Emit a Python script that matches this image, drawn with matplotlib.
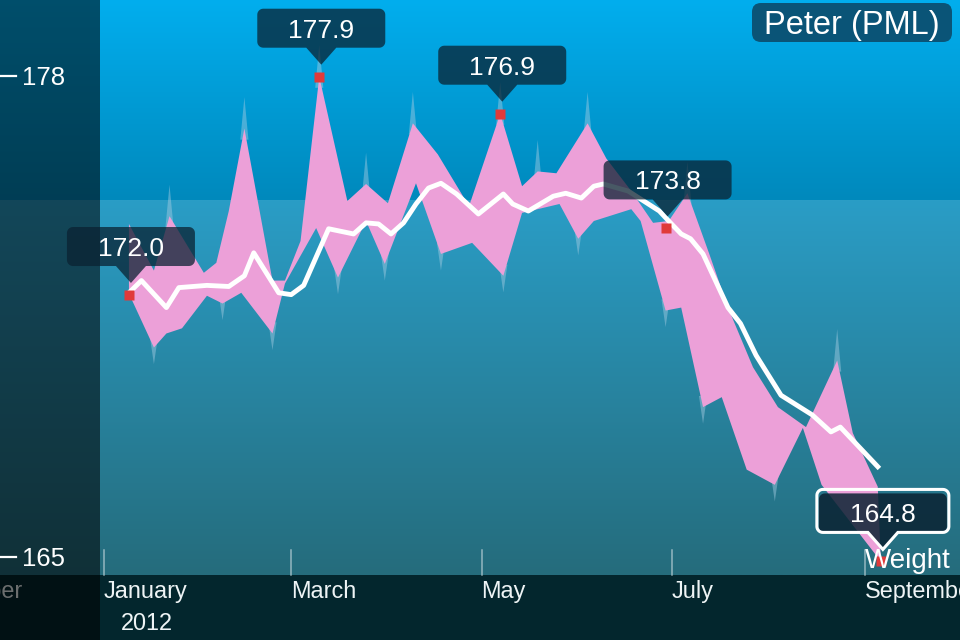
import numpy as np
import matplotlib
matplotlib.use('Agg')
import matplotlib.pyplot as plt
from matplotlib.patches import Polygon, FancyBboxPatch, Rectangle
from matplotlib.colors import LinearSegmentedColormap

plt.rcParams['font.family'] = ['Liberation Sans', 'DejaVu Sans']

# days counted from 1 Jan 2012
trend_day = [8, 12, 20, 24, 33, 40, 45, 48, 56, 60, 64, 72, 80, 84, 88, 92, 96, 100, 104, 108,
             113, 120, 128, 131, 136, 144, 148, 153, 157, 160, 168, 173, 178, 181, 185, 188, 192, 200, 204, 209,
             217, 227, 233, 236, 248]
trend_val = [172.06, 172.39, 171.66, 172.20, 172.26, 172.23, 172.52, 173.14, 172.06, 172.01,
             172.26, 173.79, 173.65, 173.95, 173.92, 173.65, 173.95, 174.46, 174.89, 175.02,
             174.73, 174.19, 174.73, 174.46, 174.27, 174.67, 174.75, 174.62, 174.94, 175.00,
             174.81, 174.54, 174.27, 174.00, 173.65, 173.52, 173.11, 171.66, 171.23, 170.37,
             169.29, 168.76, 168.30, 168.43, 167.36]

upper_day = [8, 16, 21, 32, 36, 40, 45, 54, 58, 63, 69, 78, 84, 91, 99, 107, 117, 127, 134, 139,
             145, 155, 161, 169, 176, 181, 187, 194, 200, 208, 216, 225, 235, 240, 248, 249]
upper_val = [173.92, 172.66, 174.13, 172.60, 172.87, 174.27, 176.50, 172.39, 172.39, 173.46,
             177.90, 174.54, 175.00, 174.48, 176.64, 175.80, 174.40, 176.90, 174.94, 175.34,
             175.29, 176.64, 175.69, 174.81, 173.95, 174.00, 174.75, 173.11, 171.66, 170.05,
             168.97, 168.43, 170.23, 168.27, 166.82, 164.80]

lower_day = [8, 16, 20, 25, 33, 38, 44, 54, 58, 68, 75, 84, 90, 100, 108, 118, 128, 134, 146, 152,
             157, 169, 172, 180, 185, 192, 198, 206, 215, 224, 230, 249]
lower_val = [172.04, 170.58, 170.96, 171.10, 171.98, 171.77, 172.06, 170.96, 172.31, 173.81,
             172.47, 174.00, 172.84, 175.02, 173.11, 173.41, 172.52, 174.22, 174.46, 173.52,
             174.00, 174.32, 174.00, 171.58, 171.66, 168.97, 169.24, 167.28, 166.87, 168.41,
             166.87, 164.80]

marker_day = [8, 69, 127, 180, 249]
marker_val = [172.0, 177.9, 176.9, 173.8, 164.8]

month_start = ['2011-11-01', '2012-01-01', '2012-03-01', '2012-05-01', '2012-07-01', '2012-09-01']
month_name = ['November', 'January', 'March', 'May', 'July', 'September']
year_label = '2012'
y_ticks = [178, 165]
person = 'Peter (PML)'
series_name = 'Weight'

W, H = 960, 640
start = np.datetime64('2012-01-01')
month_day = [int((np.datetime64(m) - start).astype(int)) for m in month_start]

fig = plt.figure(figsize=(9.6, 6.4), dpi=100)

# background, pixel coordinates (y down)
bg = fig.add_axes([0, 0, 1, 1])
def vgrad(top, bottom, c0, c1):
    cmap = LinearSegmentedColormap.from_list('g', [c0, c1])
    bg.imshow(np.linspace(0, 1, 256).reshape(-1, 1), cmap=cmap, aspect='auto',
              extent=[0, W, bottom, top], interpolation='bilinear')
vgrad(0, 200, '#02aeee', '#0089bc')
vgrad(200, 575, '#2a9dc6', '#256c7c')
bg.set_xlim(0, W)
bg.set_ylim(H, 0)
bg.axis('off')

# chart
ax = fig.add_axes([0, 0, 1, 1])
ax.patch.set_alpha(0)
ax.axis('off')
ax.set_xlim(-33.33, 274.36)
ax.set_ylim(162.676, 179.973)

ax.fill(upper_day + lower_day[::-1], upper_val + lower_val[::-1],
        color='#eca0d8', lw=0, zorder=3)

# faint spikes at the band's peaks and troughs
for days, vals, sgn, ln in [(upper_day, upper_val, 1, 0.85), (lower_day, lower_val, -1, 0.45)]:
    for i in range(1, len(vals) - 1):
        if sgn * (vals[i] - vals[i - 1]) > 0 and sgn * (vals[i] - vals[i + 1]) > 0:
            d, v = days[i], vals[i]
            ax.fill([d - 1.3, d + 1.3, d], [v - sgn * 0.3, v - sgn * 0.3, v + sgn * ln],
                    color='#a8cde3', alpha=0.45, lw=0, zorder=2)

ax.plot(trend_day, trend_val, color='white', lw=3.5, solid_joinstyle='round', zorder=4)
ax.plot(marker_day, marker_val, 's', color='#e03a3a', ms=6.5, mec='none', zorder=5)

def to_px(day, val):
    x, y = ax.transData.transform((day, val))
    return x, H - y

# overlay in pixel coordinates
ov = fig.add_axes([0, 0, 1, 1])
ov.patch.set_alpha(0)
ov.set_xlim(0, W)
ov.set_ylim(H, 0)
ov.axis('off')

ov.add_patch(Rectangle((0, 575), W, H - 575, color='#03262d', lw=0, zorder=1))
for d, name in zip(month_day, month_name):
    mx, _ = to_px(d, 170)
    ov.plot([mx, mx], [550, 575], color='#b9d0d6', alpha=0.75, lw=1.1, zorder=2)
    ov.text(mx, 598, name, color='#eef4f5', fontsize=16.9, ha='left', va='baseline', zorder=2)
jx, _ = to_px(month_day[1], 170)
ov.text(jx + 43, 630, year_label, color='#eef4f5', fontsize=16.9, ha='center', va='baseline', zorder=2)

# darker left strip
ov.add_patch(Rectangle((0, 0), 100, H, color='black', alpha=0.55, lw=0, zorder=5))
for t in y_ticks:
    _, ty = to_px(0, t)
    ty += 3
    ov.plot([0, 16], [ty, ty], color='white', lw=1.6, zorder=6)
    ov.text(22, ty + 9, str(t), color='white', fontsize=18.5, ha='left', va='baseline', zorder=6)

def callout_pts(cx, tip_y, bottom, w=128, h=39, r=6, half=15):
    x0, x1 = cx - w / 2, cx + w / 2
    top = bottom - h
    pts = []
    def arc(xc, yc, a0, a1):
        for a in np.linspace(a0, a1, 8):
            pts.append((xc + r * np.cos(a), yc + r * np.sin(a)))
    arc(x0 + r, top + r, np.pi, 1.5 * np.pi)
    arc(x1 - r, top + r, 1.5 * np.pi, 2 * np.pi)
    arc(x1 - r, bottom - r, 0, 0.5 * np.pi)
    pts += [(cx + half, bottom), (cx, tip_y), (cx - half, bottom)]
    arc(x0 + r, bottom - r, 0.5 * np.pi, np.pi)
    return pts

for i, (d, v) in enumerate(zip(marker_day, marker_val)):
    mx, my = to_px(d, v)
    cx, bottom = mx + 2, my - 29
    last = i == len(marker_day) - 1
    ov.add_patch(Polygon(callout_pts(cx, my - 12, bottom), closed=True,
                         facecolor='#0a2232', alpha=0.75 if not last else 0.85,
                         edgecolor='none', zorder=7))
    if last:
        ov.add_patch(Polygon(callout_pts(cx, my - 12, bottom, w=132, h=43), closed=True,
                             facecolor='none', edgecolor='white', lw=2.2, zorder=8))
    ov.text(cx, bottom - 10, f'{v:.1f}', color='white', fontsize=19,
            ha='center', va='baseline', zorder=9)

ov.add_patch(FancyBboxPatch((752, 3), 200, 39, boxstyle='round,pad=0,rounding_size=9',
                            facecolor='#0a5477', edgecolor='none', zorder=7))
ov.text(852, 34, person, color='white', fontsize=23.5, ha='center', va='baseline', zorder=8)
ov.text(865, 568, series_name, color='white', fontsize=20, ha='left', va='baseline', zorder=6)

fig.savefig('out.png', dpi=100)
